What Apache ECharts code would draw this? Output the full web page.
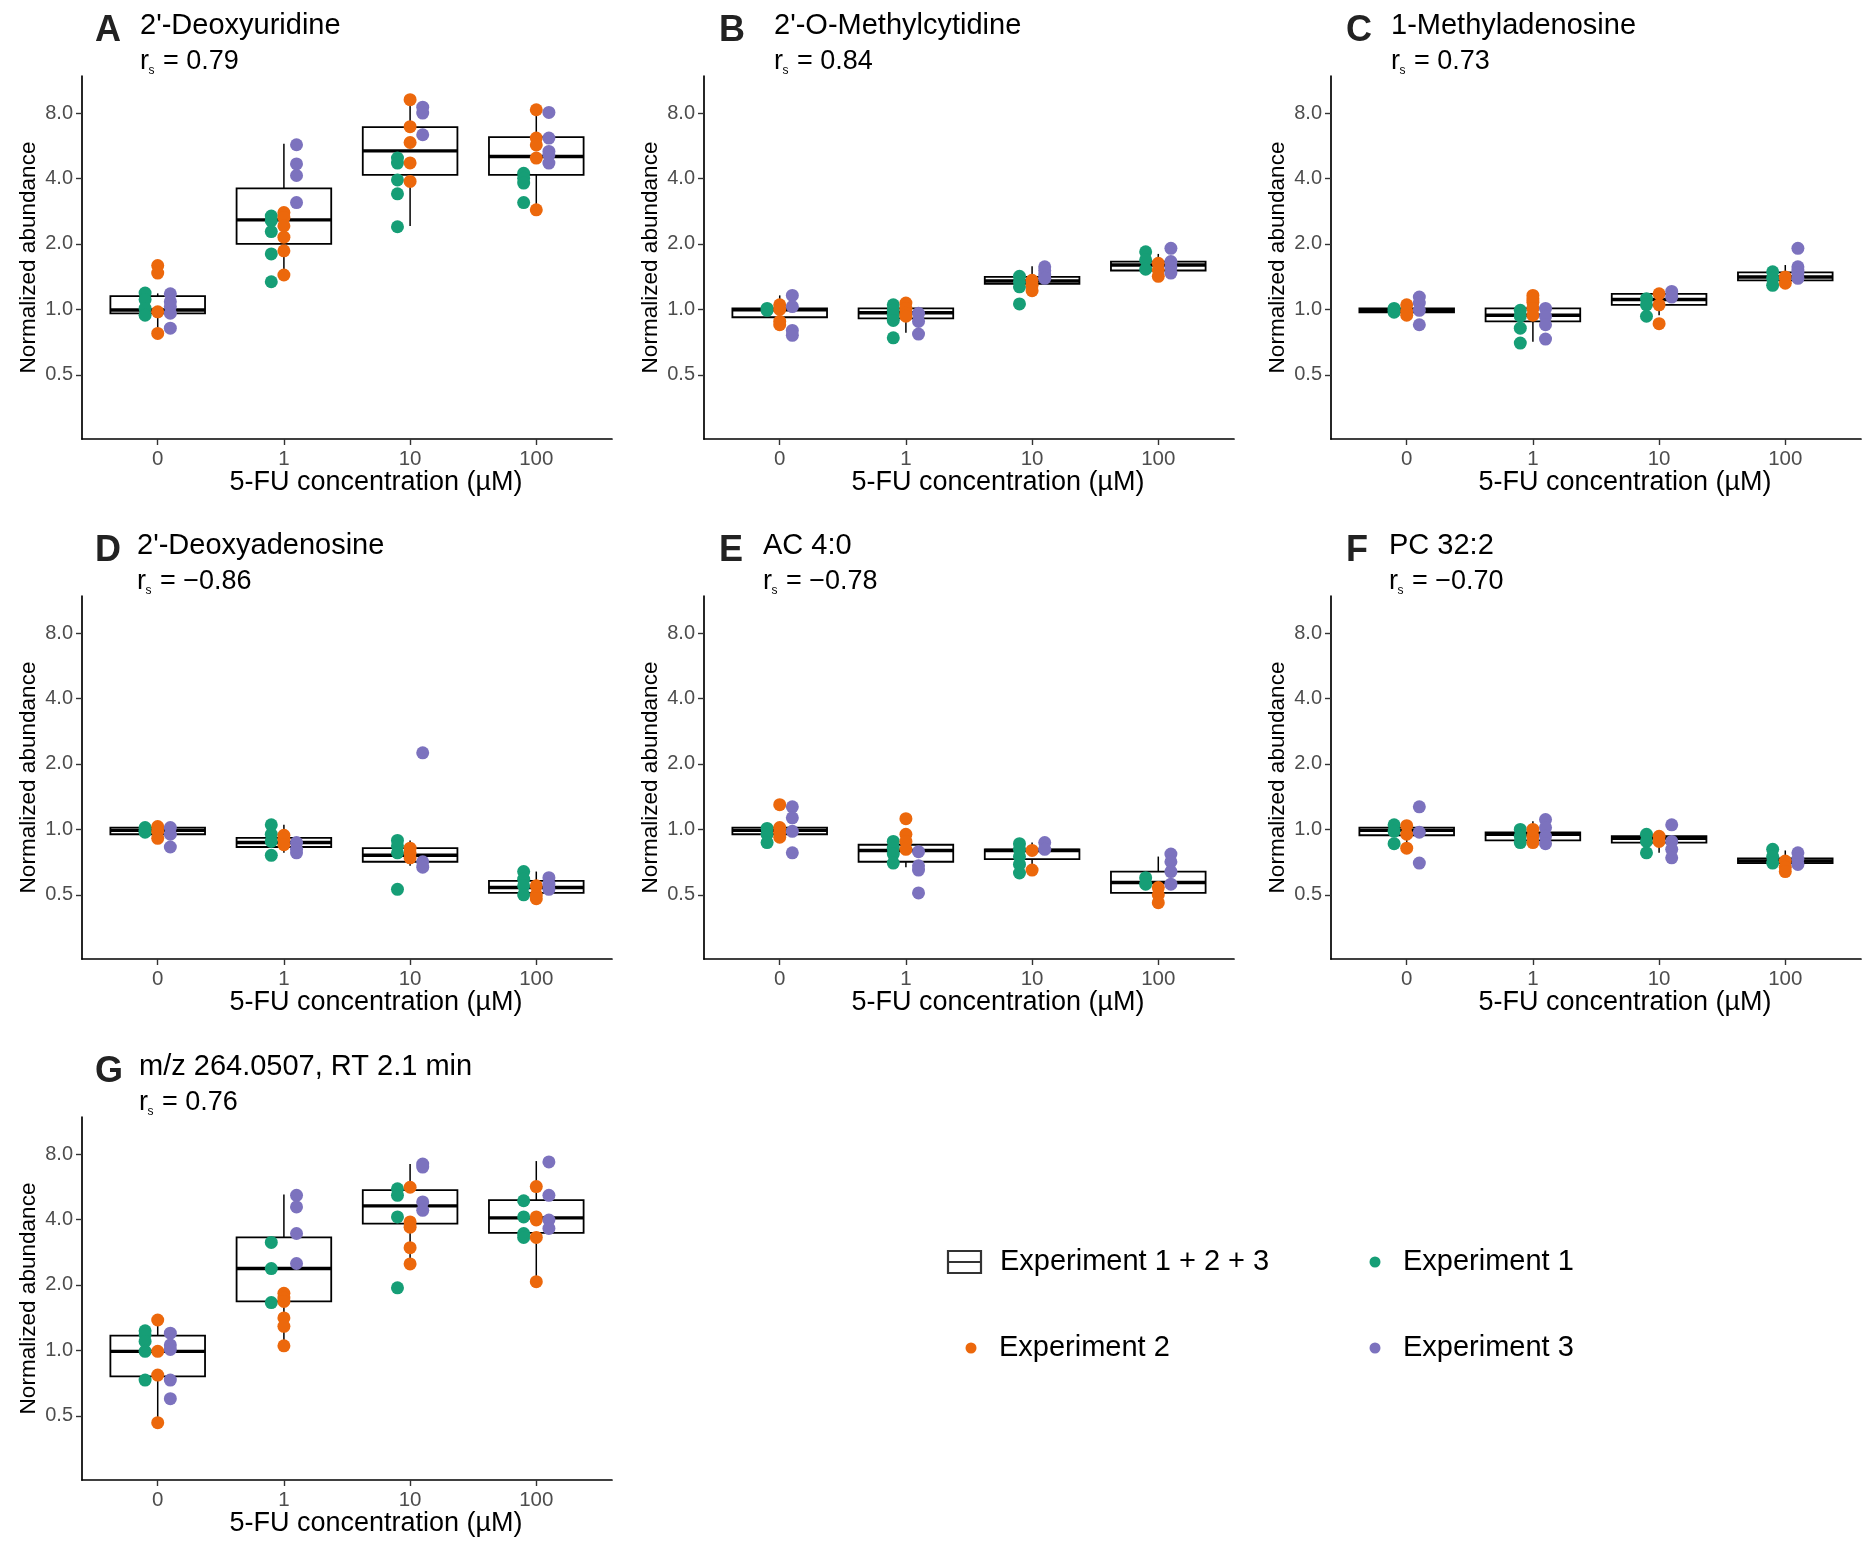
<!DOCTYPE html>
<html><head><meta charset="utf-8">
<script src="https://cdn.jsdelivr.net/npm/echarts@6/dist/echarts.min.js"></script>
<style>html,body{margin:0;padding:0;background:#fff}#chart{width:1875px;height:1552px}</style>
</head><body><div id="chart"></div>
<script>
// ---------------- DATA ----------------
const categories = ['0', '1', '10', '100'];
const yTickValues = [0.5, 1, 2, 4, 8];
const yTickLabels = ['0.5', '1.0', '2.0', '4.0', '8.0'];
const panelLetters = ['A', 'B', 'C', 'D', 'E', 'F', 'G'];
const panelNames = ["2'-Deoxyuridine", "2'-O-Methylcytidine", '1-Methyladenosine', "2'-Deoxyadenosine", 'AC 4:0', 'PC 32:2', 'm/z 264.0507, RT 2.1 min'];
const panelRs = ['0.79', '0.84', '0.73', '\u22120.86', '\u22120.78', '\u22120.70', '0.76'];
const experimentNames = ['Experiment 1', 'Experiment 2', 'Experiment 3'];
const boxLegendName = 'Experiment 1 + 2 + 3';
const xAxisTitle = '5-FU concentration (\u00b5M)';
const yAxisTitle = 'Normalized abundance';

// per panel: values per concentration for each experiment; box = [lower whisker, Q1, median, Q3, upper whisker]
const A_exp1 = [[1.19, 1.11, 1.01, 0.94], [2.69, 2.56, 2.28, 1.80, 1.34], [4.97, 4.71, 3.94, 3.40, 2.40], [4.23, 4.01, 3.81, 3.10]];
const A_exp2 = [[1.59, 1.47, 0.975, 0.775], [2.79, 2.65, 2.42, 2.15, 1.86, 1.44], [9.22, 6.93, 5.86, 4.72, 3.88], [8.29, 6.14, 5.71, 4.97, 2.87]];
const A_exp3 = [[1.18, 1.085, 1.03, 0.96, 0.82], [5.72, 4.67, 4.13, 3.10], [8.52, 8.0, 6.36], [8.06, 6.14, 5.33, 5.14, 4.71]];
const A_box = [[0.775, 0.958, 0.993, 1.152, 1.185], [1.44, 2.0, 2.58, 3.60, 5.78], [2.42, 4.16, 5.36, 6.90, 9.22], [2.87, 4.16, 5.05, 6.20, 8.29]];

const B_exp1 = [[1.01, 0.99], [1.05, 0.99, 0.94, 0.89, 0.74], [1.42, 1.34, 1.27, 1.06], [1.84, 1.69, 1.53]];
const B_exp2 = [[1.05, 1.0, 0.88, 0.85], [1.07, 1.01, 0.96, 0.93], [1.36, 1.29, 1.22], [1.63, 1.52, 1.42]];
const B_exp3 = [[1.16, 1.03, 0.80, 0.76], [0.96, 0.88, 0.77], [1.57, 1.51, 1.44, 1.39], [1.91, 1.66, 1.57, 1.47]];
const B_box = [[0.88, 0.92, 0.995, 1.01, 1.16], [0.78, 0.91, 0.965, 1.01, 1.07], [1.18, 1.31, 1.35, 1.41, 1.58], [1.42, 1.51, 1.60, 1.66, 1.80]];

const C_exp1 = [[1.01, 0.99, 0.97], [0.99, 0.93, 0.82, 0.70], [1.12, 1.05, 0.93], [1.49, 1.39, 1.29]];
const C_exp2 = [[1.05, 0.98, 0.94], [1.16, 1.12, 1.08, 1.01, 0.94], [1.18, 1.05, 0.86], [1.41, 1.32]];
const C_exp3 = [[1.14, 1.07, 0.99, 0.85], [1.01, 0.93, 0.85, 0.73], [1.21, 1.14], [1.91, 1.57, 1.52, 1.47, 1.39]];
const C_box = [[0.95, 0.97, 0.99, 1.01, 1.05], [0.71, 0.88, 0.94, 1.01, 1.16], [0.94, 1.05, 1.11, 1.18, 1.23], [1.29, 1.36, 1.41, 1.48, 1.60]];

const D_exp1 = [[1.02, 0.99, 0.97], [1.05, 0.95, 0.88, 0.76], [0.89, 0.84, 0.78, 0.53], [0.64, 0.59, 0.55, 0.50]];
const D_exp2 = [[1.03, 0.98, 0.91], [0.94, 0.90, 0.85], [0.82, 0.78, 0.74], [0.55, 0.50, 0.48]];
const D_exp3 = [[1.02, 0.95, 0.83], [0.87, 0.81, 0.78], [2.25, 0.71, 0.67], [0.60, 0.56, 0.53]];
const D_box = [[0.91, 0.95, 0.99, 1.02, 1.05], [0.78, 0.83, 0.87, 0.915, 1.05], [0.68, 0.71, 0.76, 0.82, 0.89], [0.47, 0.51, 0.54, 0.58, 0.64]];

const E_exp1 = [[1.01, 0.95, 0.87], [0.88, 0.82, 0.77, 0.70], [0.86, 0.81, 0.75, 0.69, 0.63], [0.60, 0.56]];
const E_exp2 = [[1.30, 1.02, 0.97, 0.92], [1.12, 0.95, 0.88, 0.81], [0.80, 0.65], [0.54, 0.50, 0.46]];
const E_exp3 = [[1.27, 1.13, 0.98, 0.78], [0.79, 0.68, 0.65, 0.51], [0.87, 0.81], [0.77, 0.71, 0.64, 0.56]];
const E_box = [[0.90, 0.95, 0.99, 1.02, 1.05], [0.67, 0.71, 0.80, 0.85, 0.92], [0.63, 0.73, 0.80, 0.81, 0.87], [0.46, 0.51, 0.57, 0.64, 0.75]];

const F_exp1 = [[1.05, 0.98, 0.86], [1.0, 0.93, 0.87], [0.95, 0.88, 0.78], [0.81, 0.75, 0.70]];
const F_exp2 = [[1.04, 0.95, 0.82], [1.0, 0.93, 0.87], [0.93, 0.88], [0.715, 0.67, 0.64]];
const F_exp3 = [[1.27, 0.97, 0.70], [1.11, 1.02, 0.93, 0.86], [1.05, 0.88, 0.81, 0.74], [0.78, 0.73, 0.69]];
const F_box = [[0.86, 0.94, 0.99, 1.02, 1.06], [0.87, 0.89, 0.95, 0.97, 1.09], [0.78, 0.87, 0.91, 0.93, 0.97], [0.65, 0.70, 0.715, 0.735, 0.80]];

const G_exp1 = [[1.23, 1.18, 1.10, 0.99, 0.73], [3.14, 2.38, 1.66], [5.54, 5.17, 4.11, 1.94], [4.88, 4.11, 3.45, 3.31]];
const G_exp2 = [[1.38, 0.99, 0.77, 0.465], [1.83, 1.74, 1.68, 1.41, 1.29, 1.05], [5.63, 3.90, 3.69, 2.97, 2.50], [5.67, 4.11, 3.98, 3.31, 2.07]];
const G_exp3 = [[1.20, 1.06, 1.01, 0.73, 0.60], [5.17, 4.57, 3.45, 2.51], [7.2, 6.97, 4.82, 4.41], [7.36, 5.17, 3.98, 3.64]];
const G_box = [[0.465, 0.76, 0.99, 1.17, 1.38], [1.05, 1.68, 2.38, 3.31, 5.22], [2.50, 3.83, 4.62, 5.46, 7.2], [2.07, 3.47, 4.07, 4.91, 7.43]];

// ---------------- LAYOUT / STYLE ----------------
const panelExp = [[A_exp1, A_exp2, A_exp3], [B_exp1, B_exp2, B_exp3], [C_exp1, C_exp2, C_exp3], [D_exp1, D_exp2, D_exp3], [E_exp1, E_exp2, E_exp3], [F_exp1, F_exp2, F_exp3], [G_exp1, G_exp2, G_exp3]];
const panelBox = [A_box, B_box, C_box, D_box, E_box, F_box, G_box];
const colors = ['#169E76', '#EC680C', '#7C72BE'];
const dodge = [-0.1, 0, 0.1];
const colLeft = [82, 704, 1331];
const rowTop = [76, 596, 1117];
const plotW = 530, plotH = 363;
const yMin = 0.2534, yMax = 11.85;
const letterX = [95, 719, 1346, 95, 719, 1346, 95];
const titleX = [140, 774, 1391, 137, 763, 1389, 139];
const FONT = "'Liberation Sans', Arial, Helvetica, sans-serif";

function measure(font, txt) {
  const c = document.createElement('canvas').getContext('2d');
  c.font = font; return c.measureText(txt).width;
}
let yNameFamily = FONT, yNameSize = 27;
const narrowW = measure("27px 'Liberation Sans Narrow', monospace", yAxisTitle);
const monoW = measure("27px monospace", yAxisTitle);
if (Math.abs(narrowW - monoW) > 1) {
  yNameFamily = "'Liberation Sans Narrow', " + FONT;
  yNameSize = 27 * 232 / narrowW;
} else {
  const w = measure("27px 'Liberation Sans'", yAxisTitle);
  yNameSize = 27 * 232 / w;
}

const chart = echarts.init(document.getElementById('chart'), null, { renderer: 'canvas' });
const grid = [], xAxis = [], yAxis = [], series = [], graphic = [];

function fmtY(v) {
  let idx = yTickValues.findIndex(t => Math.abs(t - v) < 1e-6);
  return idx >= 0 ? yTickLabels[idx] : '';
}

for (let i = 0; i < 7; i++) {
  const r = Math.floor(i / 3), c = i % 3;
  const left = colLeft[c], top = rowTop[r];
  grid.push({ left: left, top: top, width: plotW, height: plotH, containLabel: false });
  xAxis.push({
    gridIndex: i, type: 'value', min: -0.6, max: 3.6,
    axisLine: { show: true, onZero: false, lineStyle: { color: '#000', width: 1.7 } },
    axisTick: { show: true, customValues: [0, 1, 2, 3], length: 6, lineStyle: { color: '#333', width: 1.4 } },
    axisLabel: { show: true, customValues: [0, 1, 2, 3], formatter: v => categories[Math.round(v)], color: '#4d4d4d', fontSize: 20.5, fontFamily: FONT, margin: 10 },
    splitLine: { show: false }
  });
  yAxis.push({
    gridIndex: i, type: 'log', logBase: 2, min: yMin, max: yMax,
    axisLine: { show: true, onZero: false, lineStyle: { color: '#000', width: 1.7 } },
    axisTick: { show: true, customValues: yTickValues, length: 6, lineStyle: { color: '#333', width: 1.4 } },
    axisLabel: { show: true, customValues: yTickValues, formatter: fmtY, color: '#4d4d4d', fontSize: 20, fontFamily: FONT, margin: 9 },
    splitLine: { show: false }, minorTick: { show: false }
  });
  // boxes
  series.push({
    type: 'custom', name: boxLegendName, xAxisIndex: i, yAxisIndex: i, z: 2,
    data: panelBox[i].map((b, k) => [k, b[0], b[1], b[2], b[3], b[4]]),
    encode: { x: 0, y: [1, 2, 3, 4, 5] },
    renderItem: function (params, api) {
      const x = api.value(0);
      const lo = api.coord([x, api.value(1)]);
      const q1 = api.coord([x, api.value(2)]);
      const md = api.coord([x, api.value(3)]);
      const q3 = api.coord([x, api.value(4)]);
      const hi = api.coord([x, api.value(5)]);
      const xl = api.coord([x - 0.375, api.value(3)])[0];
      const xr = api.coord([x + 0.375, api.value(3)])[0];
      const lw = { stroke: '#000', lineWidth: 1.5, fill: null };
      return {
        type: 'group', children: [
          { type: 'line', shape: { x1: lo[0], y1: lo[1], x2: q1[0], y2: q1[1] }, style: lw },
          { type: 'line', shape: { x1: hi[0], y1: hi[1], x2: q3[0], y2: q3[1] }, style: lw },
          { type: 'rect', shape: { x: xl, y: q3[1], width: xr - xl, height: q1[1] - q3[1] }, style: { stroke: '#000', lineWidth: 1.8, fill: '#fff' } },
          { type: 'line', shape: { x1: xl, y1: md[1], x2: xr, y2: md[1] }, style: { stroke: '#000', lineWidth: 3.4 } }
        ]
      };
    },
    animation: false
  });
  // points
  for (let e = 0; e < 3; e++) {
    const arr = panelExp[i][e];
    const data = [];
    arr.forEach((vals, k) => vals.forEach(v => data.push([k + dodge[e], v])));
    series.push({
      type: 'scatter', name: experimentNames[e], xAxisIndex: i, yAxisIndex: i, z: 3,
      data: data, symbol: 'circle', symbolSize: 13,
      itemStyle: { color: colors[e], opacity: 1 }, animation: false
    });
  }
  // texts
  graphic.push({ type: 'text', x: letterX[i], y: top - 44.5, style: { text: panelLetters[i], font: "bold 36px " + FONT, fill: '#222', align: 'left', verticalAlign: 'middle' } });
  graphic.push({ type: 'text', x: titleX[i], y: top - 50, style: { text: panelNames[i], font: "29px " + FONT, fill: '#000', align: 'left', verticalAlign: 'middle' } });
  graphic.push({ type: 'text', x: titleX[i], y: top - 14.5, style: { text: 'r', font: "27px " + FONT, fill: '#000', align: 'left', verticalAlign: 'middle' } });
  graphic.push({ type: 'text', x: titleX[i] + 8.5, y: top - 5, style: { text: 's', font: "12px " + FONT, fill: '#000', align: 'left', verticalAlign: 'middle' } });
  graphic.push({ type: 'text', x: titleX[i] + 23, y: top - 14.5, style: { text: '= ' + panelRs[i], font: "27px " + FONT, fill: '#000', align: 'left', verticalAlign: 'middle' } });
  graphic.push({ type: 'text', x: left + 294, y: top + plotH + 44, style: { text: xAxisTitle, font: "27px " + FONT, fill: '#000', align: 'center', verticalAlign: 'middle' } });
  graphic.push({ type: 'text', x: left - 53, y: top + plotH / 2, rotation: Math.PI / 2, style: { text: yAxisTitle, fontSize: yNameSize, fontFamily: yNameFamily, fill: '#000', align: 'center', verticalAlign: 'middle' } });
}

// legend
graphic.push({ type: 'rect', shape: { x: 948, y: 1251, width: 33, height: 22 }, style: { stroke: '#333', lineWidth: 2.2, fill: '#fff' } });
graphic.push({ type: 'line', shape: { x1: 948, y1: 1262, x2: 981, y2: 1262 }, style: { stroke: '#333', lineWidth: 2 } });
graphic.push({ type: 'text', x: 1000, y: 1262, style: { text: boxLegendName, font: "29px " + FONT, fill: '#000', align: 'left', verticalAlign: 'middle' } });
const legPos = [[1375, 1262], [971, 1348], [1375, 1348]];
for (let e = 0; e < 3; e++) {
  graphic.push({ type: 'circle', shape: { cx: legPos[e][0], cy: legPos[e][1], r: 5.5 }, style: { fill: colors[e] } });
  graphic.push({ type: 'text', x: legPos[e][0] + 28, y: legPos[e][1], style: { text: experimentNames[e], font: "29px " + FONT, fill: '#000', align: 'left', verticalAlign: 'middle' } });
}

chart.setOption({
  animation: false,
  backgroundColor: '#fff',
  grid: grid, xAxis: xAxis, yAxis: yAxis, series: series, graphic: graphic
});
</script></body></html>
